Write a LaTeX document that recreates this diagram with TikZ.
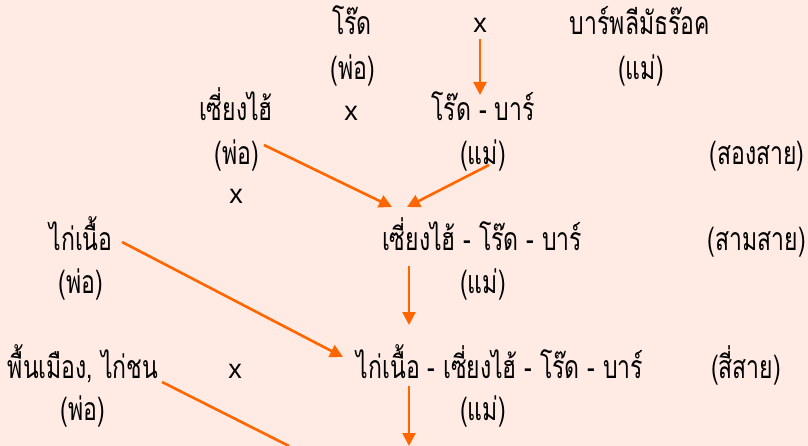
\documentclass[tikz,border=0pt]{standalone}
\usepackage{fontspec}
\usetikzlibrary{arrows.meta}
\newfontfamily\thaifont[Script=Thai,FakeStretch=0.72]{Loma}
\newfontfamily\latinx{Liberation Sans}
\definecolor{bgpink}{RGB}{255,235,228}
\definecolor{arroworange}{RGB}{255,102,0}
\begin{document}
\begin{tikzpicture}[x=1pt,y=-1pt,
  lbl/.style={anchor=base,inner sep=0pt,font=\thaifont\fontsize{32}{36}\selectfont},
  cross/.style={anchor=base,inner sep=0pt,font=\latinx\fontsize{27}{30}\selectfont},
  arr/.style={draw=arroworange,line width=2.6pt,-{Triangle[length=13pt,width=13pt]}},
  plainline/.style={draw=arroworange,line width=2.6pt}]
\fill[bgpink] (0,0) rectangle (808,446);
\useasboundingbox (0,0) rectangle (808,446);
% row 1
\node[lbl] (rod) at (352,35) {โร๊ด};
\node[cross] (xa) at (480,33) {x};
\node[lbl] (bar) at (640,35) {บาร์พลีมัธร๊อค};
% row 2
\node[lbl] (p1) at (353,80) {(พ่อ)};
\node[lbl] (m1) at (641,80) {(แม่)};
% row 3
\node[lbl] (sh) at (236,121) {เซี่ยงไฮ้};
\node[cross] (xb) at (351,121) {x};
\node[lbl] (rb) at (483,121) {โร๊ด - บาร์};
% row 4
\node[lbl] (p2) at (237,165) {(พ่อ)};
\node[lbl] (m2) at (483,165) {(แม่)};
\node[lbl] (two) at (757,165) {(สองสาย)};
% row 5
\node[cross] (xc) at (236,204) {x};
% row 6
\node[lbl] (kn) at (81,251) {ไก่เนื้อ};
\node[lbl] (srb) at (482,251) {เซี่ยงไฮ้ - โร๊ด - บาร์};
\node[lbl] (three) at (757,251) {(สามสาย)};
% row 7
\node[lbl] (p3) at (81,293) {(พ่อ)};
\node[lbl] (m3) at (483,293) {(แม่)};
% row 8
\node[lbl] (pk) at (83,378) {พื้นเมือง, ไก่ชน};
\node[cross] (xd) at (235,378) {x};
\node[lbl] (ksrb) at (500,378) {ไก่เนื้อ - เซี่ยงไฮ้ - โร๊ด - บาร์};
\node[lbl] (four) at (746,378) {(สี่สาย)};
% row 9
\node[lbl] (p4) at (83,420) {(พ่อ)};
\node[lbl] (m4) at (483,420) {(แม่)};
% connector end points
\coordinate (a1) at (480,39);
\coordinate (a2) at (480,95);
\coordinate (b1) at (264,145);
\coordinate (b2) at (392,207);
\coordinate (c1) at (489,165);
\coordinate (c2) at (407,207);
\coordinate (d1) at (409,266);
\coordinate (d2) at (409,325);
\coordinate (e1) at (122,242);
\coordinate (e2) at (343,357);
\coordinate (f1) at (409,386);
\coordinate (f2) at (409,446);
\coordinate (g1) at (162,382);
\coordinate (g2) at (289,446);
\draw[arr] (a1) -- (a2);
\draw[arr] (b1) -- (b2);
\draw[arr] (c1) -- (c2);
\draw[arr] (d1) -- (d2);
\draw[arr] (e1) -- (e2);
\draw[arr] (f1) -- (f2);
\draw[plainline] (g1) -- (g2);
\end{tikzpicture}
\end{document}
